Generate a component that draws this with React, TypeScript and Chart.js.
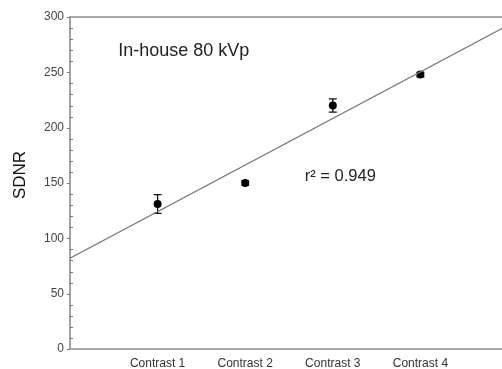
import React, { useEffect, useRef } from "react";
import { Chart, registerables } from "chart.js";

Chart.register(...registerables);

const CATEGORIES = ["Contrast 1", "Contrast 2", "Contrast 3", "Contrast 4"];
const SDNR_VALUES = [131, 150, 220, 248];
const SDNR_ERRORS = [8.5, 2, 6, 2];
const FIT_X = [0, 5];
const FIT_Y = [82, 292.5];
const Y_TICKS = [0, 50, 100, 150, 200, 250, 300];
const Y_MINOR_STEP = 10;
const Y_LABEL = "SDNR";
const ANNOTATION_LABEL = "In-house 80 kVp";
const R2_LABEL = "r\u00B2 = 0.949";

const FONT = "Arial, 'Liberation Sans', sans-serif";

export default function App() {
  const ref = useRef<HTMLCanvasElement | null>(null);

  useEffect(() => {
    document.body.style.margin = "0";
    document.body.style.overflow = "hidden";
    const canvas = ref.current;
    if (!canvas) return;

    const framePlugin = {
      id: "frame",
      beforeDatasetsDraw(chart: any) {
        const { ctx, chartArea } = chart;
        const { left, right, top, bottom } = chartArea;
        const y = chart.scales.y;
        const x = chart.scales.x;
        ctx.save();
        ctx.strokeStyle = "#8c8c8c";
        ctx.lineWidth = 1.6;
        ctx.beginPath();
        ctx.moveTo(left, top);
        ctx.lineTo(right, top);
        ctx.lineTo(right, bottom);
        ctx.lineTo(left, bottom);
        ctx.closePath();
        ctx.stroke();
        ctx.lineWidth = 1;
        ctx.strokeStyle = "#777";
        const yMin = Y_TICKS[0];
        const yMax = Y_TICKS[Y_TICKS.length - 1];
        for (let v = yMin; v <= yMax; v += Y_MINOR_STEP) {
          const py = Math.round(y.getPixelForValue(v)) + 0.5;
          const major = Y_TICKS.includes(v);
          ctx.beginPath();
          if (major) {
            ctx.moveTo(left - 3, py);
            ctx.lineTo(left, py);
            ctx.moveTo(right, py);
            ctx.lineTo(right - 6, py);
          } else {
            ctx.moveTo(left, py);
            ctx.lineTo(left + 3, py);
          }
          ctx.stroke();
        }
        // error bars
        ctx.strokeStyle = "#111";
        ctx.lineWidth = 1.3;
        SDNR_VALUES.forEach((val, i) => {
          const px = x.getPixelForValue(i + 1);
          const pTop = y.getPixelForValue(val + SDNR_ERRORS[i]);
          const pBot = y.getPixelForValue(val - SDNR_ERRORS[i]);
          ctx.beginPath();
          ctx.moveTo(px, pTop);
          ctx.lineTo(px, pBot);
          ctx.moveTo(px - 4, pTop);
          ctx.lineTo(px + 4, pTop);
          ctx.moveTo(px - 4, pBot);
          ctx.lineTo(px + 4, pBot);
          ctx.stroke();
        });
        ctx.restore();
      },
      afterDraw(chart: any) {
        const { ctx, chartArea } = chart;
        const x = chart.scales.x;
        const y = chart.scales.y;
        ctx.save();
        ctx.fillStyle = "#222";
        ctx.textAlign = "left";
        ctx.textBaseline = "alphabetic";
        ctx.font = `18px ${FONT}`;
        ctx.fillText(ANNOTATION_LABEL, x.getPixelForValue(0.55), y.getPixelForValue(265));
        ctx.font = `16.5px ${FONT}`;
        ctx.fillText(R2_LABEL, x.getPixelForValue(2.68), y.getPixelForValue(151.5));
        ctx.translate(20, (chartArea.top + chartArea.bottom) / 2 - 8);
        ctx.rotate(-Math.PI / 2);
        ctx.textAlign = "center";
        ctx.textBaseline = "middle";
        ctx.font = `17px ${FONT}`;
        ctx.fillStyle = "#111";
        ctx.fillText(Y_LABEL, 0, 0);
        ctx.restore();
      },
    };

    const chart = new Chart(canvas, {
      type: "scatter",
      data: {
        datasets: [
          {
            type: "line",
            data: FIT_X.map((xv, i) => ({ x: xv, y: FIT_Y[i] })),
            borderColor: "#7a7a7a",
            borderWidth: 1.3,
            pointRadius: 0,
            fill: false,
          } as any,
          {
            data: SDNR_VALUES.map((v, i) => ({ x: i + 1, y: v })),
            backgroundColor: "#000",
            borderColor: "#000",
            pointRadius: 4,
            pointBorderWidth: 0,
          },
        ],
      },
      plugins: [framePlugin],
      options: {
        animation: false,
        responsive: false,
        devicePixelRatio: 1,
        layout: { padding: { left: 0, top: 17, right: 4, bottom: 0 } },
        plugins: {
          legend: { display: false },
          tooltip: { enabled: false },
          title: { display: false },
        },
        scales: {
          x: {
            type: "linear",
            min: 0,
            max: 5,
            grid: { display: false, drawTicks: false },
            border: { display: false },
            afterFit: (s: any) => {
              s.height = 20;
            },
            afterBuildTicks: (s: any) => {
              s.ticks = CATEGORIES.map((_, i) => ({ value: i + 1 }));
            },
            ticks: {
              padding: 7,
              autoSkip: false,
              maxRotation: 0,
              color: "#333",
              font: { family: FONT, size: 12 },
              callback: (v: any) => CATEGORIES[Number(v) - 1] ?? "",
            },
          },
          y: {
            type: "linear",
            min: Y_TICKS[0],
            max: Y_TICKS[Y_TICKS.length - 1],
            grid: { display: false, drawTicks: false },
            border: { display: false },
            afterFit: (s: any) => {
              s.width = 70;
            },
            afterBuildTicks: (s: any) => {
              s.ticks = Y_TICKS.map((v) => ({ value: v }));
            },
            ticks: {
              padding: 6,
              color: "#444",
              font: { family: FONT, size: 12 },
            },
          },
        },
      },
    });
    return () => chart.destroy();
  }, []);

  return (
    <div style={{ position: "fixed", left: 0, top: 0, width: 502, height: 369, overflow: "hidden", background: "#fff" }}>
      <canvas ref={ref} width={512} height={369} style={{ width: 512, height: 369, display: "block" }} />
    </div>
  );
}
